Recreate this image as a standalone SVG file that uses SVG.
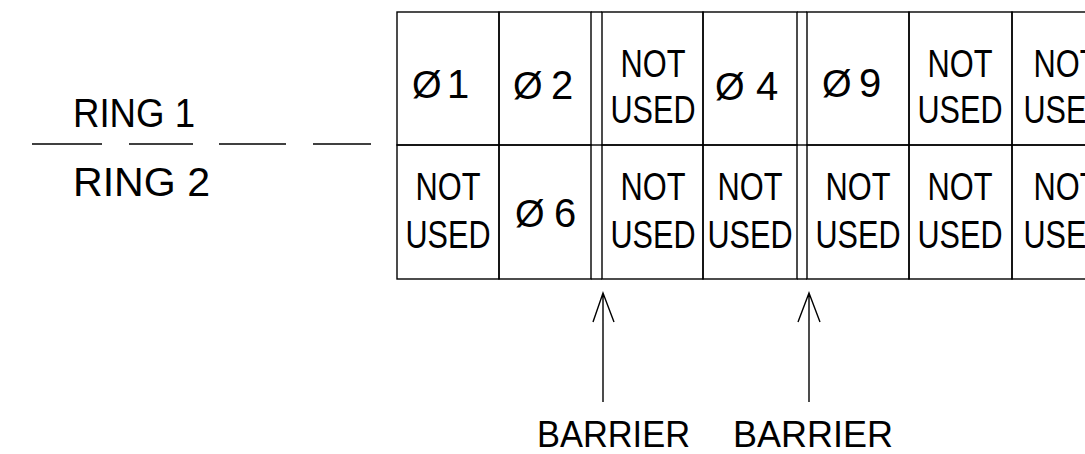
<svg xmlns="http://www.w3.org/2000/svg" width="1085" height="454" viewBox="0 0 1085 454">
<style>
.ln{stroke:#000;stroke-width:1.4;fill:none}
.cell{stroke:#000;stroke-width:1.4;fill:none}
.t{font-family:"Liberation Sans",Arial,sans-serif;fill:#000}
.w{font-size:39px;text-anchor:middle}
.phi{font-size:38px}
.d{font-size:40px}
.lbl{font-size:40px}
.bar{font-size:37px}
</style>
<rect width="1085" height="454" fill="#fff"/>
<g id="ring-labels">
<text class="t lbl" x="73" y="127" textLength="122" lengthAdjust="spacingAndGlyphs">RING 1</text>
<text class="t lbl" x="73" y="196" textLength="137" lengthAdjust="spacingAndGlyphs">RING  2</text>
<line class="ln" x1="32" y1="144" x2="102" y2="144"/>
<line class="ln" x1="129" y1="144" x2="193" y2="144"/>
<line class="ln" x1="219" y1="144" x2="286" y2="144"/>
<line class="ln" x1="313" y1="144" x2="371" y2="144"/>
</g>
<g id="barrier-gaps">
<line class="ln" x1="591" y1="12" x2="602" y2="12"/>
<line class="ln" x1="591" y1="145" x2="602" y2="145"/>
<line class="ln" x1="591" y1="279" x2="602" y2="279"/>
<line class="ln" x1="797" y1="12" x2="807" y2="12"/>
<line class="ln" x1="797" y1="145" x2="807" y2="145"/>
<line class="ln" x1="797" y1="279" x2="807" y2="279"/>
</g>
<g id="r1c1"><rect class="cell" x="397" y="12" width="102" height="133"/>
<text class="t" y="98"><tspan class="phi" x="412">Ø</tspan><tspan class="d" x="447">1</tspan></text></g>
<g id="r1c2"><rect class="cell" x="499" y="12" width="92" height="133"/>
<text class="t" y="99"><tspan class="phi" x="513">Ø</tspan><tspan class="d" x="551">2</tspan></text></g>
<g id="r1c3"><rect class="cell" x="602" y="12" width="101" height="133"/>
<text class="t w" x="653" y="77" textLength="65" lengthAdjust="spacingAndGlyphs">NOT</text>
<text class="t w" x="653" y="123" textLength="85" lengthAdjust="spacingAndGlyphs">USED</text></g>
<g id="r1c4"><rect class="cell" x="703" y="12" width="94" height="133"/>
<text class="t" y="100"><tspan class="phi" x="715">Ø</tspan><tspan class="d" x="756">4</tspan></text></g>
<g id="r1c5"><rect class="cell" x="807" y="12" width="102" height="133"/>
<text class="t" y="97"><tspan class="phi" x="822">Ø</tspan><tspan class="d" x="859" font-size="38">9</tspan></text></g>
<g id="r1c6"><rect class="cell" x="909" y="12" width="103" height="133"/>
<text class="t w" x="960" y="77" textLength="65" lengthAdjust="spacingAndGlyphs">NOT</text>
<text class="t w" x="960" y="123" textLength="85" lengthAdjust="spacingAndGlyphs">USED</text></g>
<g id="r1c7"><rect class="cell" x="1012" y="12" width="110" height="133"/>
<text class="t w" x="1066" y="77" textLength="65" lengthAdjust="spacingAndGlyphs">NOT</text>
<text class="t w" x="1066" y="123" textLength="85" lengthAdjust="spacingAndGlyphs">USED</text></g>
<g id="r2c1"><rect class="cell" x="397" y="145" width="102" height="134"/>
<text class="t w" x="448" y="200" textLength="65" lengthAdjust="spacingAndGlyphs">NOT</text>
<text class="t w" x="448" y="248" textLength="85" lengthAdjust="spacingAndGlyphs">USED</text></g>
<g id="r2c2"><rect class="cell" x="499" y="145" width="92" height="134"/>
<text class="t" y="227"><tspan class="phi" x="515">Ø</tspan><tspan class="d" x="554" font-size="31">6</tspan></text></g>
<g id="r2c3"><rect class="cell" x="602" y="145" width="101" height="134"/>
<text class="t w" x="653" y="200" textLength="65" lengthAdjust="spacingAndGlyphs">NOT</text>
<text class="t w" x="653" y="248" textLength="85" lengthAdjust="spacingAndGlyphs">USED</text></g>
<g id="r2c4"><rect class="cell" x="703" y="145" width="94" height="134"/>
<text class="t w" x="750" y="200" textLength="65" lengthAdjust="spacingAndGlyphs">NOT</text>
<text class="t w" x="750" y="248" textLength="85" lengthAdjust="spacingAndGlyphs">USED</text></g>
<g id="r2c5"><rect class="cell" x="807" y="145" width="102" height="134"/>
<text class="t w" x="858" y="200" textLength="65" lengthAdjust="spacingAndGlyphs">NOT</text>
<text class="t w" x="858" y="248" textLength="85" lengthAdjust="spacingAndGlyphs">USED</text></g>
<g id="r2c6"><rect class="cell" x="909" y="145" width="103" height="134"/>
<text class="t w" x="960" y="200" textLength="65" lengthAdjust="spacingAndGlyphs">NOT</text>
<text class="t w" x="960" y="248" textLength="85" lengthAdjust="spacingAndGlyphs">USED</text></g>
<g id="r2c7"><rect class="cell" x="1012" y="145" width="110" height="134"/>
<text class="t w" x="1066" y="200" textLength="65" lengthAdjust="spacingAndGlyphs">NOT</text>
<text class="t w" x="1066" y="248" textLength="85" lengthAdjust="spacingAndGlyphs">USED</text></g>
<g id="connectors">
<path class="ln" d="M603 402V293M593 322L603 293L614 322"/>
<path class="ln" d="M809 402V293M798 322L809 293L820 322"/>
</g>
<g id="barrier-labels">
<text class="t bar" x="537" y="447" textLength="153" lengthAdjust="spacingAndGlyphs">BARRIER</text>
<text class="t bar" x="733" y="447" textLength="160" lengthAdjust="spacingAndGlyphs">BARRIER</text>
</g>
</svg>
